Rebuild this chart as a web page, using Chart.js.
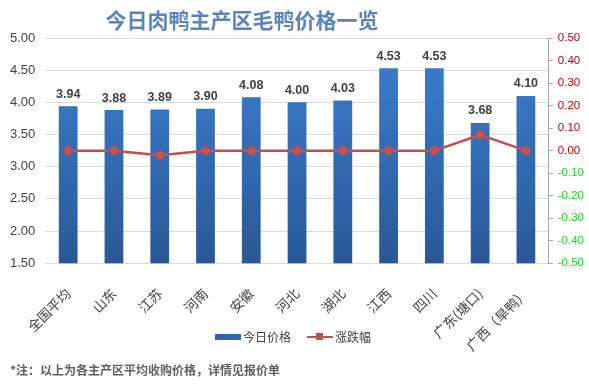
<!DOCTYPE html>
<html>
<head>
<meta charset="utf-8">
<script src="https://cdn.jsdelivr.net/npm/chart.js@4/dist/chart.umd.min.js"></script>
<style>
  body { margin: 0; background: #fff; }
  #wrap { position: relative; width: 589px; height: 386px; font-family: "Noto Sans CJK SC", sans-serif; }
  #chart { position: absolute; left: 0; top: 0; }
  #title { position: absolute; left: 0; width: 484px; top: 4px; text-align: center; font-size: 21px; font-weight: bold; color: #5b84ba; }
  #legend { position: absolute; left: 215px; top: 326px; font-size: 12px; color: #404040; white-space: nowrap; }
  #legend span { display: inline-block; vertical-align: middle; }
  .barkey { width: 26px; height: 6px; background: #2f64aa; margin-right: 2px; }
  .linekey { position: relative; width: 26px; height: 2px; background: #c0504d; margin: 0 2px 0 16px; }
  .linekey i { position: absolute; left: 9px; top: -3px; width: 7px; height: 7px; background: #c0504d; }
  #note { position: absolute; left: 10px; top: 361px; font-size: 12px; font-weight: bold; color: #5f5f5f; }
</style>
</head>
<body>
<div id="wrap">
  <canvas id="chart" width="589" height="386"></canvas>
  <div id="title">今日肉鸭主产区毛鸭价格一览</div>
  <div id="legend"><span class="barkey"></span><span>今日价格</span><span class="linekey"><i></i></span><span>涨跌幅</span></div>
  <div id="note">*注：以上为各主产区平均收购价格，详情见报价单</div>
</div>
<script>
var regions = ['全国平均', '山东', '江苏', '河南', '安徽', '河北', '湖北', '江西', '四川', '广东(塘口)', '广西（旱鸭）'];
var prices = [3.94, 3.88, 3.89, 3.90, 4.08, 4.00, 4.03, 4.53, 4.53, 3.68, 4.10];
var changes = [0.00, 0.00, -0.02, 0.00, 0.00, 0.00, 0.00, 0.00, 0.00, 0.07, 0.00];

var barLabels = {
  id: 'barLabels',
  afterDatasetsDraw: function(chart) {
    var ctx = chart.ctx;
    var meta = chart.getDatasetMeta(1);
    ctx.save();
    ctx.font = 'bold 12.5px "Liberation Sans", sans-serif';
    ctx.fillStyle = '#404040';
    ctx.textAlign = 'center';
    ctx.textBaseline = 'middle';
    meta.data.forEach(function(bar, i) {
      ctx.fillText(prices[i].toFixed(2), bar.x, bar.y - 12);
    });
    ctx.restore();
  }
};

function barFill(context) {
  var area = context.chart.chartArea;
  if (!area) return '#2f64aa';
  var g = context.chart.ctx.createLinearGradient(0, area.top, 0, area.bottom);
  g.addColorStop(0, '#3d7fd2');
  g.addColorStop(1, '#2a5896');
  return g;
}

var ctx = document.getElementById('chart');
var chart = new Chart(ctx, {
  type: 'bar',
  data: {
    labels: regions,
    datasets: [{
      type: 'line',
      label: '涨跌幅',
      data: changes,
      yAxisID: 'y1',
      borderColor: '#c0504d',
      backgroundColor: '#c0504d',
      borderWidth: 2.5,
      pointRadius: 4.5,
      pointBackgroundColor: '#c8504d',
      pointBorderWidth: 0,
      tension: 0,
      order: 0
    }, {
      label: '今日价格',
      data: prices,
      yAxisID: 'y',
      backgroundColor: barFill,
      barPercentage: 0.41,
      categoryPercentage: 1,
      order: 1
    }]
  },
  options: {
    responsive: false,
    animation: false,
    layout: { padding: { left: 0, right: 0, top: 38, bottom: 18 } },
    plugins: {
      legend: { display: false },
      title: { display: false },
      tooltip: { enabled: false }
    },
    scales: {
      x: {
        grid: { display: false },
        border: { display: false },
        ticks: {
          color: '#404040',
          font: { size: 13.5, family: '"Noto Sans CJK SC", sans-serif' },
          maxRotation: 45,
          minRotation: 45,
          padding: 14
        }
      },
      y: {
        position: 'left',
        min: 1.5,
        max: 5,
        grid: { color: '#d9d9d9', drawTicks: false },
        border: { display: false },
        ticks: {
          stepSize: 0.5,
          padding: 10,
          color: '#404040',
          font: { size: 13, family: '"Liberation Sans", sans-serif' },
          callback: function(v) { return v.toFixed(2); }
        }
      },
      y1: {
        position: 'right',
        min: -0.5,
        max: 0.5,
        grid: { drawOnChartArea: false, tickLength: 4, color: '#a6a6a6' },
        border: { display: true, color: '#a6a6a6' },
        ticks: {
          stepSize: 0.1,
          padding: 5,
          font: { size: 11.5, family: '"Liberation Sans", sans-serif' },
          color: function(c) { return c.tick.value < -0.001 ? '#22cc22' : '#c00000'; },
          callback: function(v) { return v.toFixed(2); }
        }
      }
    }
  },
  plugins: [barLabels]
});
</script>
</body>
</html>
